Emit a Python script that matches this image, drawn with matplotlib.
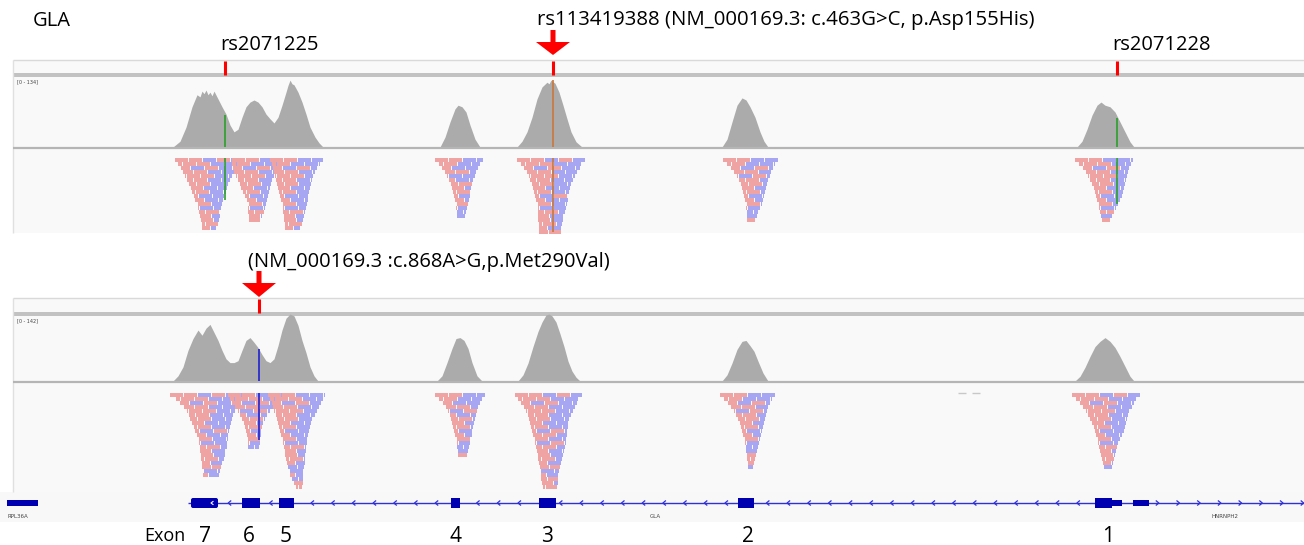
import matplotlib.pyplot as plt
import numpy as np
from matplotlib.patches import Rectangle, Polygon, FancyBboxPatch
from matplotlib.collections import LineCollection

plt.rcParams['font.family'] = ['Open Sans', 'DejaVu Sans']

# ---------------- data (x = screen position along the GLA locus) ----------------
top_range = 134
bot_range = 142

# coverage depth, upper sample
top_e765_x = [173, 180, 186, 192, 197, 200, 202, 204, 206, 208, 210, 212, 214, 218, 222, 226, 230, 234,
              238, 242, 246, 250, 254, 258, 262, 266, 270, 274, 278, 282, 286, 288, 290, 292, 294, 298,
              302, 306, 310, 315, 319, 323]
top_e765_d = [0, 11, 38, 77, 100, 96, 107, 102, 109, 100, 105, 98, 107, 92, 77, 63, 42, 29,
              34, 57, 77, 86, 90, 86, 77, 63, 54, 46, 57, 80, 105, 118, 128, 121, 119, 105,
              86, 63, 38, 19, 8, 0]
top_e4_x = [440, 445, 450, 455, 458, 462, 466, 470, 475, 480]
top_e4_d = [0, 19, 48, 73, 80, 77, 67, 42, 15, 0]
top_e3_x = [517, 522, 527, 532, 537, 542, 547, 549, 551, 553, 555, 559, 563, 567, 571, 576, 582]
top_e3_d = [0, 11, 29, 57, 92, 115, 124, 121, 128, 125, 122, 105, 80, 54, 29, 10, 0]
top_e2_x = [722, 727, 732, 737, 742, 746, 750, 755, 760, 764, 768]
top_e2_d = [0, 15, 48, 80, 94, 90, 77, 57, 29, 11, 0]
top_e1_x = [1077, 1082, 1087, 1092, 1097, 1101, 1105, 1110, 1115, 1120, 1125, 1130, 1134]
top_e1_d = [0, 11, 34, 61, 80, 86, 80, 77, 67, 48, 29, 10, 0]

# coverage depth, lower sample
bot_e765_x = [173, 178, 183, 188, 193, 198, 202, 206, 210, 214, 218, 222, 226, 230, 234, 238, 242, 246,
              250, 254, 258, 262, 266, 270, 274, 278, 282, 286, 290, 294, 298, 302, 306, 310, 314, 318]
bot_e765_d = [0, 11, 30, 65, 90, 108, 97, 112, 120, 103, 86, 65, 47, 39, 39, 43, 65, 86,
              92, 82, 71, 56, 43, 39, 47, 75, 108, 133, 142, 138, 118, 86, 60, 30, 11, 0]
bot_e4_x = [437, 442, 447, 452, 456, 460, 464, 468, 472, 477, 482]
bot_e4_d = [0, 11, 39, 69, 90, 92, 86, 69, 39, 11, 0]
bot_e3_x = [518, 523, 528, 533, 538, 542, 546, 549, 552, 556, 560, 564, 568, 572, 576, 580]
bot_e3_d = [0, 13, 38, 73, 105, 125, 140, 142, 138, 125, 100, 73, 42, 21, 8, 0]
bot_e2_x = [722, 727, 732, 737, 742, 746, 750, 754, 758, 763, 768]
bot_e2_d = [0, 13, 38, 67, 84, 86, 75, 63, 42, 17, 0]
bot_e1_x = [1075, 1080, 1085, 1090, 1095, 1100, 1105, 1110, 1115, 1120, 1125, 1130, 1134]
bot_e1_d = [0, 10, 29, 52, 73, 84, 92, 84, 71, 52, 31, 10, 0]

# read stacks: left / right edge of each packed row, upper sample
top_r7_l = [175, 178, 181, 183, 185, 187, 189, 191, 192, 194, 195, 197, 198, 199, 200, 201, 202, 202]
top_r7_r = [240, 238, 236, 234, 232, 230, 228, 227, 226, 224, 223, 222, 221, 220, 220, 219, 218, 216]
top_r6_l = [232, 232, 233, 234, 236, 238, 240, 241, 243, 245, 247, 248, 248, 248, 249, 249]
top_r6_r = [280, 278, 276, 275, 274, 273, 271, 270, 269, 268, 267, 266, 265, 264, 262, 260]
top_r5_l = [270, 272, 273, 274, 275, 276, 277, 278, 279, 280, 281, 282, 283, 283, 284, 284, 285, 285]
top_r5_r = [323, 320, 317, 315, 313, 312, 311, 310, 309, 308, 308, 307, 306, 305, 304, 303, 302, 300]
top_r4_l = [435, 439, 442, 445, 447, 449, 451, 452, 453, 454, 455, 456, 456, 457, 457]
top_r4_r = [483, 480, 478, 476, 475, 473, 472, 471, 470, 470, 469, 468, 467, 466, 465]
top_r3_l = [517, 521, 524, 527, 529, 530, 532, 533, 534, 535, 536, 537, 538, 538, 538, 538, 539, 539, 539]
top_r3_r = [585, 582, 580, 577, 575, 573, 571, 570, 569, 568, 568, 567, 566, 565, 564, 563, 562, 562, 561]
top_r2_l = [723, 727, 731, 734, 737, 739, 741, 742, 743, 744, 745, 746, 746, 747, 747, 747]
top_r2_r = [778, 775, 773, 771, 770, 768, 767, 766, 765, 764, 763, 762, 760, 758, 757, 755]
top_r1_l = [1075, 1079, 1083, 1086, 1088, 1090, 1092, 1094, 1095, 1096, 1097, 1098, 1099, 1100, 1101, 1102]
top_r1_r = [1133, 1131, 1129, 1128, 1127, 1126, 1125, 1124, 1123, 1122, 1120, 1118, 1116, 1114, 1112, 1110]

# read stacks, lower sample
bot_r7_l = [170, 176, 180, 184, 187, 189, 190, 192, 194, 195, 197, 198, 199, 200, 200, 201, 201, 202, 202, 203, 203]
bot_r7_r = [245, 242, 240, 237, 235, 233, 232, 231, 230, 229, 228, 228, 227, 227, 226, 225, 224, 222, 221, 220, 219]
bot_r6_l = [228, 230, 232, 235, 238, 240, 242, 244, 245, 246, 247, 247, 248, 248]
bot_r6_r = [285, 282, 278, 274, 270, 267, 265, 263, 262, 261, 261, 260, 260, 259]
bot_r5_l = [268, 270, 272, 273, 274, 276, 277, 278, 279, 280, 281, 282, 283, 284, 285, 285, 286, 287,
            288, 289, 290, 292, 294, 296]
bot_r5_r = [325, 323, 321, 319, 317, 315, 313, 311, 310, 309, 308, 307, 307, 306, 306, 305, 305, 305,
            304, 304, 303, 303, 303, 302]
bot_r4_l = [435, 439, 443, 446, 448, 450, 451, 452, 453, 454, 455, 456, 457, 457, 458, 458]
bot_r4_r = [485, 482, 480, 478, 477, 476, 475, 474, 473, 472, 472, 471, 470, 469, 468, 467]
bot_r3_l = [515, 518, 521, 524, 526, 528, 529, 530, 531, 532, 533, 534, 535, 536, 537, 538, 538, 539,
            540, 540, 541, 541, 542, 543]
bot_r3_r = [582, 579, 577, 575, 573, 571, 569, 568, 568, 567, 567, 566, 566, 565, 564, 563, 562, 561,
            560, 559, 558, 558, 558, 557]
bot_r2_l = [720, 724, 728, 731, 734, 736, 738, 740, 741, 742, 743, 744, 745, 746, 746, 747, 747, 748, 748]
bot_r2_r = [775, 772, 770, 768, 767, 766, 765, 764, 763, 762, 761, 760, 759, 758, 757, 756, 755, 754, 753]
bot_r1_l = [1072, 1076, 1080, 1083, 1086, 1088, 1090, 1092, 1094, 1095, 1096, 1097, 1098, 1099, 1100,
            1101, 1102, 1103, 1104]
bot_r1_r = [1140, 1137, 1134, 1132, 1130, 1128, 1127, 1126, 1125, 1124, 1122, 1120, 1118, 1117, 1116,
            1115, 1114, 1113, 1112]

# variants: position, allele colour, coverage top, read-line end
top_snp_x = [225, 553, 1117]
top_snp_color = ['#2ca02c', '#c8783c', '#2ca02c']
top_snp_cov = [115, 80, 118]
top_snp_read_end = [200, 232, 204]
top_snp_label = ['rs2071225', '', 'rs2071228']
top_snp_label_x = [270, 0, 1162]
bot_snp_x = [259]
bot_snp_color = ['#2020d0']
bot_snp_cov = [349]
bot_snp_read_end = [440]

# gene model
exon_num = ['7', '6', '5', '4', '3', '2', '1']
exon_start = [190, 242, 279, 451, 539, 738, 1095]
exon_end = [217, 260, 294, 460, 556, 754, 1112]
exon_label_x = [205, 249, 286, 455, 547, 748, 1108]
utr_start = [7, 1112, 1133]
utr_end = [38, 1122, 1149]
gene_names = ['RPL36A', 'GLA', 'HNRNPH2']
gene_name_x = [8, 655, 1225]

# ---------------- drawing ----------------
W, H = 1304, 545
fig = plt.figure(figsize=(W / 100, H / 100), dpi=100)
ax = fig.add_axes([0, 0, 1, 1])
ax.set_xlim(0, W)
ax.set_ylim(H, 0)
ax.axis('off')

PINK = '#efa3a3'
BLUE = '#a6a6f2'
RED = '#ff0000'
NAVY = '#0000b0'


def draw_panel(y_top, y_cov, y_base, y_end, rng):
    ax.add_patch(Rectangle((13, y_top), W - 13, y_end - y_top, fc='#f9f9f9', ec='none', zorder=0))
    ax.hlines(y_top, 13, W, color='#d9d9d9', lw=1, zorder=1)
    ax.hlines([y_cov - 3.5, y_cov - 1], 13, W, color='#bdbdbd', lw=1.3, zorder=1)
    ax.hlines(y_base + 0.8, 13, W, color='#b5b5b5', lw=1.6, zorder=3)
    ax.vlines(13, y_top, y_end, color='#e0e0e0', lw=1, zorder=1)
    ax.text(17, y_cov + 5, '[0 - %d]' % rng, fontsize=3.5, color='#444444', va='center',
            family='DejaVu Sans', zorder=4)


def draw_cov(xs, depth, y_base, height, rng):
    y = y_base - np.array(depth) * height / rng
    ax.fill_between(xs, y_base, y, color='#ababab', lw=0, zorder=2)


def draw_reads(lefts, rights, y0, row_h=4.0, seg=14):
    # pink = forward strand reads (mostly left), blue = reverse (mostly right)
    for i, (l, r) in enumerate(zip(lefts, rights)):
        off = (i * 9 + (i // 3) * 4) % seg
        xs, cols = [], []
        x = l - off
        k = 0
        while x < r:
            a, b = max(x, l), min(x + seg - 0.6, r)
            if b > a:
                frac = ((a + b) / 2 - l) / max(r - l, 1)
                h = (k * 7 + i * 3) % 5
                if frac < 0.25:
                    pink = True
                elif frac > 0.78:
                    pink = False
                else:
                    pink = h < (3 if frac < 0.5 else 2)
                cols.append(PINK if pink else BLUE)
                xs.append((a, b - a))
            x += seg
            k += 1
        ax.broken_barh(xs, (y0 + i * row_h, row_h - 0.5), facecolors=cols, lw=0,
                       antialiased=False, zorder=2)


def draw_arrow(x, y_stem, y_head, y_tip):
    ax.add_patch(Polygon([(x - 2.5, y_stem), (x + 2.5, y_stem), (x + 2.5, y_head), (x + 17, y_head),
                          (x, y_tip), (x - 17, y_head), (x - 2.5, y_head)],
                         closed=True, fc=RED, ec='none', zorder=5))


# upper sample
draw_panel(60, 77, 147, 233, top_range)
for xs, d in [(top_e765_x, top_e765_d), (top_e4_x, top_e4_d), (top_e3_x, top_e3_d),
              (top_e2_x, top_e2_d), (top_e1_x, top_e1_d)]:
    draw_cov(xs, d, 147, 70, top_range)
for l, r in [(top_r7_l, top_r7_r), (top_r6_l, top_r6_r), (top_r5_l, top_r5_r), (top_r4_l, top_r4_r),
             (top_r3_l, top_r3_r), (top_r2_l, top_r2_r), (top_r1_l, top_r1_r)]:
    draw_reads(l, r, 158)
for x, c, yc, ye, lab, lx in zip(top_snp_x, top_snp_color, top_snp_cov, top_snp_read_end,
                                 top_snp_label, top_snp_label_x):
    ax.vlines(x, yc, 147, color=c, lw=1.2, zorder=3)
    ax.vlines(x, 158, ye, color=c, lw=1.2, zorder=3)
    ax.vlines(x, 61, 74.5, color=RED, lw=2.2, zorder=4)
    if lab:
        ax.text(lx, 45, lab, fontsize=14.5, ha='center', va='center', zorder=5)
draw_arrow(553, 30, 42, 55)

# lower sample
draw_panel(298, 316, 381, 492, bot_range)
for xs, d in [(bot_e765_x, bot_e765_d), (bot_e4_x, bot_e4_d), (bot_e3_x, bot_e3_d),
              (bot_e2_x, bot_e2_d), (bot_e1_x, bot_e1_d)]:
    draw_cov(xs, d, 381, 67, bot_range)
for l, r in [(bot_r7_l, bot_r7_r), (bot_r6_l, bot_r6_r), (bot_r5_l, bot_r5_r), (bot_r4_l, bot_r4_r),
             (bot_r3_l, bot_r3_r), (bot_r2_l, bot_r2_r), (bot_r1_l, bot_r1_r)]:
    draw_reads(l, r, 393)
ax.hlines(393, 958, 966, color='#c8c8c8', lw=1, zorder=2)
ax.hlines(393, 972, 980, color='#c8c8c8', lw=1, zorder=2)
for x, c, yc, ye in zip(bot_snp_x, bot_snp_color, bot_snp_cov, bot_snp_read_end):
    ax.vlines(x, yc, 381, color=c, lw=1.2, zorder=3)
    ax.vlines(x, 393, ye, color=c, lw=1.2, zorder=3)
    ax.vlines(x, 299, 312.5, color=RED, lw=2.2, zorder=4)
draw_arrow(259, 271, 283, 297)

# titles
ax.text(33, 21, 'GLA', fontsize=14.5, ha='left', va='center')
ax.text(537, 20, 'rs113419388 (NM_000169.3: c.463G>C, p.Asp155His)', fontsize=14.7,
        ha='left', va='center')
ax.text(248, 262, '(NM_000169.3 :c.868A>G,p.Met290Val)', fontsize=14.5, ha='left', va='center')

# gene track
ax.add_patch(Rectangle((0, 492), W, 30, fc='#f8f8f8', ec='none', zorder=0))
ax.hlines(503, 188, W, color='#3030d8', lw=1, zorder=2)
chev_gla = [x for x in np.arange(229, 1090, 20.7)
            if not any(s - 4 <= x <= e + 4 for s, e in zip(exon_start, exon_end))]
segs = [[(x + 2.2, 500.5), (x - 0.8, 503), (x + 2.2, 505.5)] for x in chev_gla]
segs += [[(x - 2.2, 500.5), (x + 0.8, 503), (x - 2.2, 505.5)] for x in np.arange(1158, W, 20.7)]
ax.add_collection(LineCollection(segs, colors='#3030d8', lw=0.9, zorder=3))
for i, (s, e) in enumerate(zip(exon_start, exon_end)):
    if i == 0:
        ax.add_patch(FancyBboxPatch((s + 2, 499), e - s - 2, 8, boxstyle='round,pad=1,rounding_size=2',
                                    fc=NAVY, ec='none', zorder=4))
    else:
        ax.add_patch(Rectangle((s, 498), e - s, 10, fc=NAVY, ec='none', zorder=4))
for s, e in zip(utr_start, utr_end):
    ax.add_patch(Rectangle((s, 500), e - s, 6, fc=NAVY, ec='none', zorder=4))
ax.plot([213, 211, 213], [501.5, 503, 504.5], color='white', lw=0.8, zorder=5)
for name, x in zip(gene_names, gene_name_x):
    ax.text(x, 517, name, fontsize=4, color='#444444', family='DejaVu Sans',
            ha='left' if x < 50 else 'center', va='center', zorder=5)

# exon numbering
ax.text(165, 536, 'Exon', fontsize=13, ha='center', va='center')
for n, x in zip(exon_num, exon_label_x):
    ax.text(x, 537, n, fontsize=15, ha='center', va='center')

fig.savefig('out.png', dpi=100)
